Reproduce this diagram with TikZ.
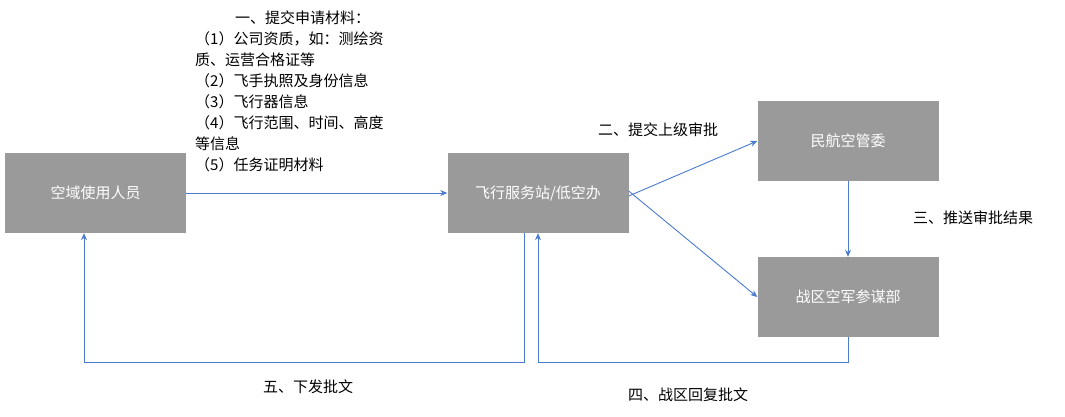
\documentclass[tikz,border=0pt]{standalone}
\usepackage{fontspec}
\setmainfont{Noto Sans CJK SC}
\usetikzlibrary{arrows.meta}
\begin{document}
\begin{tikzpicture}[x=1pt,y=-1pt,
  box/.style={fill=boxgray,text=white,minimum width=181pt,minimum height=80pt,inner sep=0pt,font=\fontsize{15}{18}\selectfont},
  conn/.style={draw=lineblue,line width=0.9pt,-{Stealth[length=7pt,width=6pt]}},
  lab/.style={font=\fontsize{15}{21}\selectfont,inner sep=0pt,anchor=west}]
\definecolor{boxgray}{HTML}{9A9A9A}
\definecolor{lineblue}{HTML}{4A7BD0}
\useasboundingbox (0,0) rectangle (1065,417);
\node[box] (a) at (95.5,193) {空域使用人员};
\node[box] (b) at (538,193) {飞行服务站/低空办};
\node[box] (c) at (848,141) {民航空管委};
\node[box] (d) at (848,297) {战区空军参谋部};
\draw[conn] (a.east) -- (b.west);
\draw[conn] ([yshift=-3pt]b.east) -- (c.west);
\draw[conn] ([yshift=2pt]b.east) -- (d.west);
\draw[conn] (c.south) -- (d.north);
\coordinate (d1) at (848,362);
\coordinate (d2) at (538,362);
\draw[conn] (d.south) -- (d1) -- (d2) -- (b.south);
\coordinate (b1) at (524,362);
\coordinate (b2) at (84,362);
\draw[conn] ([xshift=-14pt]b.south) -- (b1) -- (b2) -- ([xshift=-11.5pt]a.south);
\node[lab] (t1) at (235,18) {一、提交申请材料：};
\node[lab] (t2) at (195,39) {（1）公司资质，如：测绘资};
\node[lab] (t3) at (195,60) {质、运营合格证等};
\node[lab] (t4) at (195,81) {（2）飞手执照及身份信息};
\node[lab] (t5) at (195,102) {（3）飞行器信息};
\node[lab] (t6) at (195,123) {（4）飞行范围、时间、高度};
\node[lab] (t7) at (195,144) {等信息};
\node[lab] (t8) at (195,165) {（5）任务证明材料};
\node[lab] (l2) at (598,130) {二、提交上级审批};
\node[lab] (l3) at (913,218) {三、推送审批结果};
\node[lab] (l4) at (628,395) {四、战区回复批文};
\node[lab] (l5) at (263,387) {五、下发批文};
\end{tikzpicture}
\end{document}
